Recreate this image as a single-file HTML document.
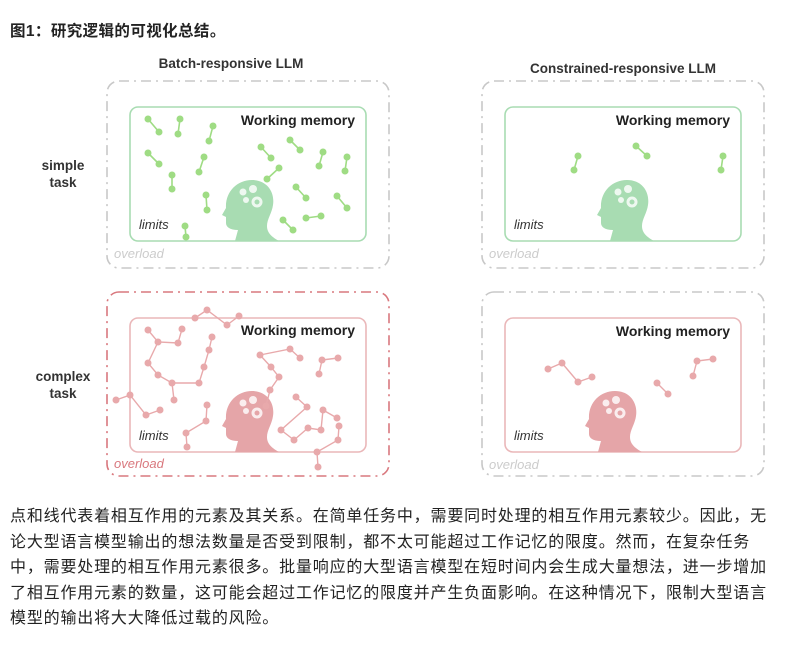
<!DOCTYPE html>
<html><head><meta charset="utf-8"><style>
html,body{margin:0;padding:0;background:#fff;width:787px;height:650px;overflow:hidden}
.t{position:absolute;left:10px;font-family:"Liberation Sans","Noto Sans CJK SC",sans-serif;white-space:nowrap;color:#222}
.b{font-size:16px;letter-spacing:0.82px}
</style></head><body>
<div class="t" style="top:19px;font-size:15.5px;font-weight:bold;letter-spacing:0.4px">图1：研究逻辑的可视化总结。</div>
<svg width="787" height="650" style="position:absolute;left:0;top:0" font-family="Liberation Sans, sans-serif">
<defs>
<g id="head">
<path d="M0 61 L3 50 C-5 50 -9 47 -9 43 L-9 37 L-13 35 L-9 28 C-10 12 2 0 17 0 C32 0 40 12 38 25 C37 33 32 39 32 46 C32 53 37 57 44 61 Z"/>
<circle cx="8" cy="12" r="3.5" fill="#fff" opacity="0.8"/><circle cx="18" cy="9" r="4" fill="#fff" opacity="0.8"/>
<circle cx="11" cy="20" r="3" fill="#fff" opacity="0.8"/><circle cx="22" cy="22" r="5.5" fill="#fff" opacity="0.8"/>
<circle cx="22" cy="22" r="2.5" fill="currentColor"/>
</g>
</defs>
<text x="231" y="68" font-size="13.5" font-weight="bold" fill="#333" text-anchor="middle">Batch-responsive LLM</text>
<text x="623" y="73" font-size="13.5" font-weight="bold" fill="#333" text-anchor="middle">Constrained-responsive LLM</text>
<g font-size="13.5" font-weight="bold" fill="#333" text-anchor="middle">
<text x="63" y="170">simple</text><text x="63" y="187">task</text>
<text x="63" y="381">complex</text><text x="63" y="398">task</text></g>
<g fill="none" stroke-width="1.6" stroke-dasharray="10 5 2 5">
<rect x="107" y="81" width="282" height="187" rx="12" stroke="#c8c8c8"/>
<rect x="482" y="81" width="282" height="187" rx="12" stroke="#c8c8c8"/>
<rect x="107" y="292" width="282" height="184" rx="12" stroke="#d9787e"/>
<rect x="482" y="292" width="282" height="184" rx="12" stroke="#c8c8c8"/>
</g>
<g fill="none" stroke-width="1.6">
<rect x="130" y="107" width="236" height="134" rx="8" stroke="#a8dcb2"/>
<rect x="505" y="107" width="236" height="134" rx="8" stroke="#a8dcb2"/>
<rect x="130" y="318" width="236" height="134" rx="8" stroke="#eab7b9"/>
<rect x="505" y="318" width="236" height="134" rx="8" stroke="#eab7b9"/>
</g>
<g font-size="14" font-weight="bold" fill="#222" text-anchor="end">
<text x="355" y="125">Working memory</text><text x="730" y="125">Working memory</text>
<text x="355" y="335">Working memory</text><text x="730" y="336">Working memory</text></g>
<g font-size="13" font-style="italic" fill="#333">
<text x="139" y="229">limits</text><text x="514" y="229">limits</text>
<text x="139" y="440">limits</text><text x="514" y="440">limits</text></g>
<g font-size="13" font-style="italic">
<text x="114" y="258" fill="#ccc">overload</text><text x="489" y="258" fill="#ccc">overload</text>
<text x="114" y="468" fill="#d9787e">overload</text><text x="489" y="469" fill="#ccc">overload</text></g>
<use href="#head" x="235" y="180" fill="#a8dcb2" color="#a8dcb2"/>
<use href="#head" x="610" y="180" fill="#a8dcb2" color="#a8dcb2"/>
<use href="#head" x="235" y="391" fill="#e5a5a8" color="#e5a5a8"/>
<use href="#head" x="598" y="391" fill="#e5a5a8" color="#e5a5a8"/>
<g stroke="#9fdc84" stroke-width="1.6" fill="none">
<path d="M148 119L159 132M180 119L178 134M213 126L209 141M148 153L159 164M204 157L199 172M172 175L172 189M206 195L207 210M185 226L186 237M261 147L271 158M290 140L300 150M323 152L319 166M347 157L345 171M279 168L267 179M296 187L306 198M337 196L347 208M283 220L293 230M306 218L321 216M578 156L574 170M636 146L647 156M723 156L721 170"/></g>
<g fill="#9fdc84">
<circle cx="148" cy="119" r="3.5"/><circle cx="159" cy="132" r="3.5"/><circle cx="180" cy="119" r="3.5"/><circle cx="178" cy="134" r="3.5"/><circle cx="213" cy="126" r="3.5"/><circle cx="209" cy="141" r="3.5"/><circle cx="148" cy="153" r="3.5"/><circle cx="159" cy="164" r="3.5"/><circle cx="204" cy="157" r="3.5"/><circle cx="199" cy="172" r="3.5"/><circle cx="172" cy="175" r="3.5"/><circle cx="172" cy="189" r="3.5"/><circle cx="206" cy="195" r="3.5"/><circle cx="207" cy="210" r="3.5"/><circle cx="185" cy="226" r="3.5"/><circle cx="186" cy="237" r="3.5"/><circle cx="261" cy="147" r="3.5"/><circle cx="271" cy="158" r="3.5"/><circle cx="290" cy="140" r="3.5"/><circle cx="300" cy="150" r="3.5"/><circle cx="323" cy="152" r="3.5"/><circle cx="319" cy="166" r="3.5"/><circle cx="347" cy="157" r="3.5"/><circle cx="345" cy="171" r="3.5"/><circle cx="279" cy="168" r="3.5"/><circle cx="267" cy="179" r="3.5"/><circle cx="296" cy="187" r="3.5"/><circle cx="306" cy="198" r="3.5"/><circle cx="337" cy="196" r="3.5"/><circle cx="347" cy="208" r="3.5"/><circle cx="283" cy="220" r="3.5"/><circle cx="293" cy="230" r="3.5"/><circle cx="306" cy="218" r="3.5"/><circle cx="321" cy="216" r="3.5"/>
<circle cx="578" cy="156" r="3.5"/><circle cx="574" cy="170" r="3.5"/><circle cx="636" cy="146" r="3.5"/><circle cx="647" cy="156" r="3.5"/><circle cx="723" cy="156" r="3.5"/><circle cx="721" cy="170" r="3.5"/></g>
<g stroke="#e8a9ab" stroke-width="1.4" fill="none">
<path d="M148 330L158 342L178 343L182 329M158 342L148 363L158 375L172 383L199 383L204 367L209 350L212 337M172 383L174 400M195 318L207 310L227 325L239 316M116 400L130 395L146 415L160 410M186 433L206 421L207 405M186 433L187 447M260 355L271 367L279 377L270 390L266 406M260 355L290 349L300 358M322 360L338 358M322 360L319 374M296 397L307 407L281 430L294 440L308 428L321 430L323 410M323 410L337 418M339 426L338 440L317 452L318 467M548 369L562 363L578 382L592 377M657 383L668 394M693 376L697 361L713 359"/></g>
<g fill="#e8a9ab">
<circle cx="148" cy="330" r="3.5"/><circle cx="158" cy="342" r="3.5"/><circle cx="178" cy="343" r="3.5"/><circle cx="182" cy="329" r="3.5"/><circle cx="148" cy="363" r="3.5"/><circle cx="158" cy="375" r="3.5"/><circle cx="172" cy="383" r="3.5"/><circle cx="199" cy="383" r="3.5"/><circle cx="204" cy="367" r="3.5"/><circle cx="209" cy="350" r="3.5"/><circle cx="212" cy="337" r="3.5"/><circle cx="174" cy="400" r="3.5"/><circle cx="195" cy="318" r="3.5"/><circle cx="207" cy="310" r="3.5"/><circle cx="227" cy="325" r="3.5"/><circle cx="239" cy="316" r="3.5"/><circle cx="116" cy="400" r="3.5"/><circle cx="130" cy="395" r="3.5"/><circle cx="146" cy="415" r="3.5"/><circle cx="160" cy="410" r="3.5"/><circle cx="186" cy="433" r="3.5"/><circle cx="206" cy="421" r="3.5"/><circle cx="207" cy="405" r="3.5"/><circle cx="187" cy="447" r="3.5"/><circle cx="260" cy="355" r="3.5"/><circle cx="271" cy="367" r="3.5"/><circle cx="279" cy="377" r="3.5"/><circle cx="270" cy="390" r="3.5"/><circle cx="266" cy="406" r="3.5"/><circle cx="290" cy="349" r="3.5"/><circle cx="300" cy="358" r="3.5"/><circle cx="322" cy="360" r="3.5"/><circle cx="338" cy="358" r="3.5"/><circle cx="319" cy="374" r="3.5"/><circle cx="296" cy="397" r="3.5"/><circle cx="307" cy="407" r="3.5"/><circle cx="281" cy="430" r="3.5"/><circle cx="294" cy="440" r="3.5"/><circle cx="308" cy="428" r="3.5"/><circle cx="321" cy="430" r="3.5"/><circle cx="323" cy="410" r="3.5"/><circle cx="337" cy="418" r="3.5"/><circle cx="339" cy="426" r="3.5"/><circle cx="338" cy="440" r="3.5"/><circle cx="317" cy="452" r="3.5"/><circle cx="318" cy="467" r="3.5"/>
<circle cx="548" cy="369" r="3.5"/><circle cx="562" cy="363" r="3.5"/><circle cx="578" cy="382" r="3.5"/><circle cx="592" cy="377" r="3.5"/><circle cx="657" cy="383" r="3.5"/><circle cx="668" cy="394" r="3.5"/><circle cx="693" cy="376" r="3.5"/><circle cx="697" cy="361" r="3.5"/><circle cx="713" cy="359" r="3.5"/></g>
</svg>
<div class="t b" style="top:502px">点和线代表着相互作用的元素及其关系。在简单任务中，需要同时处理的相互作用元素较少。因此，无</div>
<div class="t b" style="top:527.5px">论大型语言模型输出的想法数量是否受到限制，都不太可能超过工作记忆的限度。然而，在复杂任务</div>
<div class="t b" style="top:553px">中，需要处理的相互作用元素很多。批量响应的大型语言模型在短时间内会生成大量想法，进一步增加</div>
<div class="t b" style="top:578.5px">了相互作用元素的数量，这可能会超过工作记忆的限度并产生负面影响。在这种情况下，限制大型语言</div>
<div class="t b" style="top:604px">模型的输出将大大降低过载的风险。</div>
</body></html>
